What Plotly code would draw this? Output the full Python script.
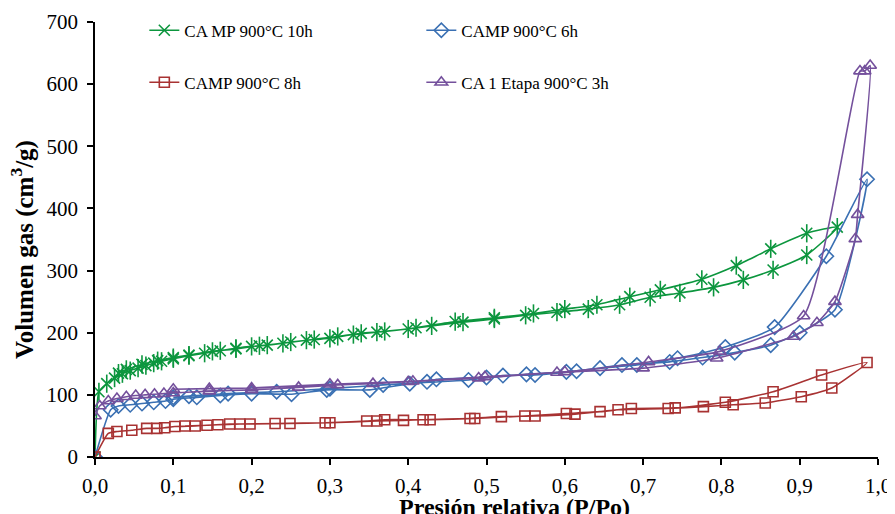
import plotly.graph_objects as go

# ---- data (P/Po, volume cm3/g) : adsorption branch followed by desorption branch ----
green_name = "CA MP 900°C 10h"
green_x = [0.0, 0.005, 0.015, 0.025, 0.035, 0.045, 0.055, 0.065, 0.075, 0.085, 0.10, 0.12, 0.14, 0.16,
           0.18, 0.20, 0.22, 0.25, 0.28, 0.30, 0.33, 0.36, 0.40, 0.43, 0.47, 0.51, 0.55, 0.59, 0.63,
           0.67, 0.709, 0.747, 0.790, 0.828, 0.866, 0.909, 0.948,
           0.909, 0.863, 0.819, 0.775, 0.722, 0.683, 0.641, 0.60, 0.56, 0.51, 0.46, 0.41, 0.37,
           0.34, 0.31, 0.27, 0.24, 0.21, 0.18, 0.15, 0.12, 0.10, 0.08, 0.06, 0.04, 0.03]
green_y = [0, 105, 118, 127, 134, 139, 143, 147, 151, 154, 158, 163, 167, 171,
           175, 178, 180, 185, 189, 191, 197, 201, 206, 211, 217, 222, 228, 233, 238,
           245, 257, 264, 273, 285, 301, 325, 370,
           360, 335, 308, 286, 269, 258, 245, 238, 231, 224, 218, 208, 202,
           199, 194, 188, 183, 179, 174, 170, 164, 160, 155, 149, 141, 135]

blue_name = "CAMP 900°C 6h"
blue_x = [0.0, 0.02, 0.03, 0.045, 0.06, 0.075, 0.09, 0.10, 0.13, 0.16, 0.20, 0.251, 0.296, 0.351,
          0.402, 0.477, 0.521, 0.562, 0.615, 0.673, 0.734, 0.776, 0.817, 0.863, 0.900, 0.945, 0.986,
          0.934, 0.868, 0.805, 0.744, 0.692, 0.645, 0.602, 0.551, 0.50, 0.436, 0.424, 0.368, 0.30,
          0.232, 0.17, 0.12, 0.10]
blue_y = [0, 76, 82, 84, 86, 88, 90, 93, 96, 99, 102, 101, 108, 108,
          118, 124, 131, 132, 138, 148, 153, 160, 168, 180, 200, 237, 447,
          323, 209, 177, 159, 148, 143, 137, 133, 128, 125, 121, 116, 110,
          105, 102, 98, 96]

red_name = "CAMP 900°C 8h"
red_x = [0.0, 0.017, 0.028, 0.047, 0.066, 0.079, 0.089, 0.102, 0.128, 0.157, 0.185, 0.23, 0.30,
         0.36, 0.394, 0.419, 0.479, 0.519, 0.562, 0.613, 0.668, 0.732, 0.777, 0.815, 0.856, 0.902,
         0.941, 0.986,
         0.928, 0.866, 0.805, 0.741, 0.685, 0.645, 0.602, 0.549, 0.485, 0.428, 0.37, 0.347, 0.294,
         0.249, 0.198, 0.172, 0.143, 0.115]
red_y = [0, 38, 41, 43, 46, 46, 47, 49, 50, 52, 53, 54, 55,
         58, 59, 60, 62, 65, 66, 69, 76, 78, 81, 84, 87, 97,
         111, 152,
         132, 105, 88, 79, 78, 73, 70, 66, 62, 60, 60, 58, 55,
         54, 53, 53, 51, 50]

purple_name = "CA 1 Etapa 900°C 3h"
purple_x = [0.0, 0.006, 0.017, 0.028, 0.04, 0.052, 0.064, 0.076, 0.088, 0.10, 0.146, 0.20, 0.26,
            0.31, 0.355, 0.40, 0.49, 0.59, 0.70, 0.794, 0.892, 0.922, 0.945, 0.971, 0.974, 0.990,
            0.983, 0.977, 0.905, 0.798, 0.707, 0.60, 0.498, 0.406, 0.30, 0.20, 0.146, 0.10]
purple_y = [66, 82, 90, 94, 97, 99, 100, 101, 102, 103, 106, 108, 112,
            116, 118, 121, 127, 136, 143, 159, 194, 216, 250, 351, 390, 630,
            621, 621, 227, 170, 153, 137, 129, 122, 117, 111, 110, 109]

x_ticks = [0.0, 0.1, 0.2, 0.3, 0.4, 0.5, 0.6, 0.7, 0.8, 0.9, 1.0]
x_tick_labels = ["0,0", "0,1", "0,2", "0,3", "0,4", "0,5", "0,6", "0,7", "0,8", "0,9", "1,0"]
y_ticks = [0, 100, 200, 300, 400, 500, 600, 700]
x_title = "Presión relativa (P/Po)"
y_title = "Volumen gas (cm<sup>3</sup>/g)"

FONT = "Liberation Serif, Times New Roman, serif"
GREEN, BLUE, RED, PURPLE = "#0C963E", "#3A70B3", "#A83232", "#74509C"

# the page body adds an 8 px offset, compensated here
OFF = 8
PL, PT, PR, PB = 95, 22, 878, 457          # plot area in window pixels
PW, PH = PR - PL, PB - PT

fig = go.Figure()

def add(name, xs, ys, color, symbol, size, legend):
    fig.add_trace(go.Scatter(
        x=xs, y=ys, name=name, mode="lines+markers",
        line=dict(color=color, width=1.6, shape="spline", smoothing=0.5),
        marker=dict(symbol=symbol, size=size, color=color, line=dict(color=color, width=1.6)),
        legend=legend,
    ))

add(green_name, green_x, green_y, GREEN, "x-thin-open", 11, "legend")
# vertical stroke completing the 6-armed star marker of the green series
fig.add_trace(go.Scatter(x=green_x, y=green_y, mode="markers", showlegend=False, hoverinfo="skip",
                         marker=dict(symbol="line-ns-open", size=13, color=GREEN,
                                     line=dict(color=GREEN, width=1.6))))
add(blue_name, blue_x, blue_y, BLUE, "diamond-open", 11, "legend")
add(red_name, red_x, red_y, RED, "square-open", 10, "legend2")
add(purple_name, purple_x, purple_y, PURPLE, "triangle-up-open", 11, "legend2")

legend_common = dict(orientation="h", xanchor="left", yanchor="middle", yref="container",
                     font=dict(family=FONT, size=17, color="black"),
                     entrywidth=232, entrywidthmode="pixels",
                     bgcolor="rgba(0,0,0,0)", traceorder="normal")

fig.update_layout(
    width=895, height=514,
    margin=dict(l=PL - OFF, r=895 - (PR - OFF), t=PT - OFF, b=514 - (PB - OFF), autoexpand=False),
    paper_bgcolor="white", plot_bgcolor="white",
    font=dict(family=FONT, color="black"),
    showlegend=True,
    legend=dict(x=0.063, y=1 - (30.7 - OFF) / 514, **legend_common),
    legend2=dict(x=0.063, y=1 - (82.7 - OFF) / 514, **legend_common),
    xaxis=dict(range=[0, 1], tickvals=x_ticks, ticktext=x_tick_labels, automargin=False,
               showgrid=False, zeroline=False, showline=True, linecolor="black", linewidth=1.5,
               ticks="outside", ticklen=6, tickcolor="black", tickwidth=1.5, ticklabelstandoff=3,
               tickfont=dict(family=FONT, size=21, color="black")),
    yaxis=dict(range=[0, 700], tickvals=y_ticks, automargin=False,
               showgrid=False, zeroline=False, showline=True, linecolor="black", linewidth=1.5,
               ticks="outside", ticklen=6, tickcolor="black", tickwidth=1.5, ticklabelstandoff=5,
               tickfont=dict(family=FONT, size=21, color="black")),
    annotations=[
        dict(text="<b>" + x_title + "</b>", xref="paper", yref="paper",
             x=(514 - PL) / PW, y=(PB - 507) / PH, xanchor="center", yanchor="middle",
             showarrow=False, font=dict(family=FONT, size=24, color="black")),
        dict(text="<b>" + y_title + "</b>", xref="paper", yref="paper", textangle=-90,
             x=(23 - PL) / PW, y=(PB - 250) / PH, xanchor="center", yanchor="middle",
             showarrow=False, font=dict(family=FONT, size=25, color="black")),
    ],
)

fig.write_html("out.html")
